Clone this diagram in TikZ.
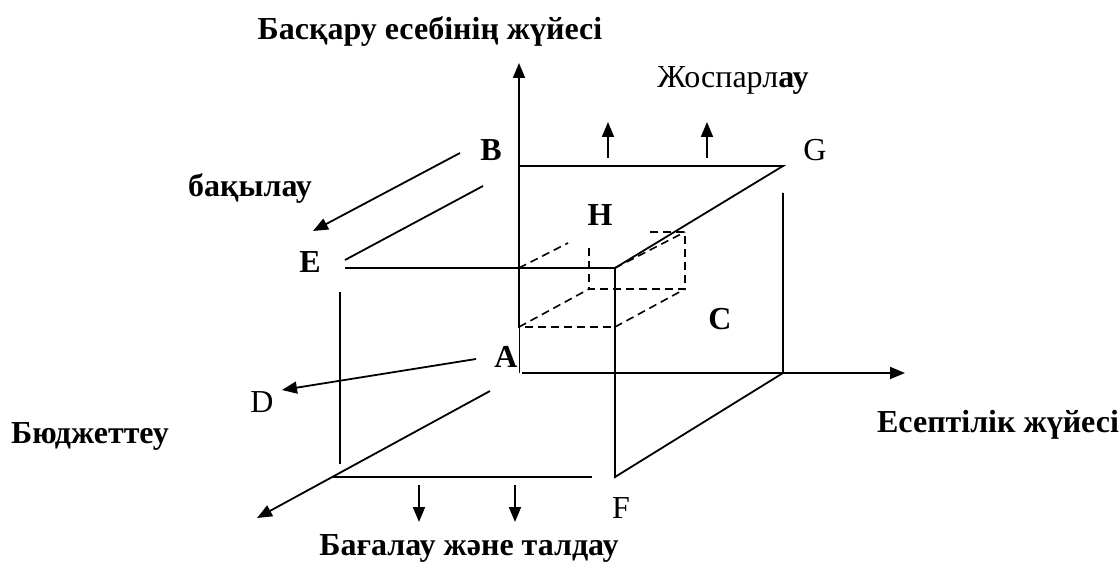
\documentclass[tikz,border=0pt]{standalone}
\usepackage{fontspec}
\setmainfont{Liberation Serif}
\usetikzlibrary{arrows.meta}

\begin{document}
\begin{tikzpicture}[x=0.5pt, y=-0.5pt, every node/.style={font=\fontsize{16}{19}\selectfont, inner sep=0pt, anchor=base}, >={Triangle[length=7.5pt,width=6pt]}, edge/.style={line width=0.9pt}, hidden/.style={line width=0.8pt, dash pattern=on 4pt off 2.5pt}, bf/.style={font=\fontsize{16}{19}\selectfont\bfseries}]
	\useasboundingbox (0,0) rectangle (1120,567);
	\coordinate (origin) at (519,373);
	\coordinate (ytip) at (519,63);
	\coordinate (xtip) at (905,373);
	\coordinate (backTL) at (519,166);
	\coordinate (backTR) at (783,166);
	\coordinate (backBR) at (783,373);
	\coordinate (frontTR) at (615,268);
	\coordinate (frontBR) at (615,477);
	\coordinate (frontTL) at (345,268);
	\draw[edge, ->] (519,327) -- (ytip);
	\draw[line width=0.4pt] (519,327) -- (origin);
	\draw[edge, ->] (522,373) -- (xtip);
	\draw[edge] (backTL) -- (backTR) -- (frontTR);
	\draw[edge] (783,193) -- (backBR) -- (frontBR) -- (frontTR) -- (frontTL);
	\draw[edge] (345,260) -- (483,186);
	\draw[edge] (340,292) -- (340,464);
	\draw[edge] (332,477) -- (592,477);
	\draw[hidden] (519,268) -- (519,327) -- (615,327) -- (frontTR);
	\draw[hidden] (589,248) -- (589,289) -- (685,289) -- (685,232) -- (647,232);
	\draw[hidden] (519,268) -- (568,243);
	\draw[hidden] (519,327) -- (589,289);
	\draw[hidden] (615,327) -- (685,289);
	\draw[hidden] (frontTR) -- (685,232);
	\draw[edge, ->] (460,153) -- (313,231);
	\draw[edge, ->] (476,359) -- (282,390);
	\draw[edge, ->] (490,391) -- (257,518);
	\draw[edge, ->] (419,485) -- (419,522);
	\draw[edge, ->] (515,485) -- (515,522);
	\draw[edge, ->] (608,158) -- (608,122);
	\draw[edge, ->] (707,158) -- (707,122);
	\node[bf] (mgmt) at (430,40) {Басқару есебінің жүйесі};
	\node (plan) at (733,88) {Жоспарл\textbf{ау}};
	\node[bf] (ctrl) at (250,197) {бақылау};
	\node[bf] (budget) at (90,443) {Бюджеттеу};
	\node[bf] (report) at (998,432) {Есептілік жүйесі};
	\node[bf] (eval) at (469,555) {Бағалау және талдау};
	\node[bf] (A) at (506,367) {A};
	\node[bf] (B) at (491,161) {B};
	\node[bf] (C) at (720,329) {C};
	\node (D) at (262,412) {D};
	\node[bf] (E) at (310,272) {E};
	\node (F) at (621,518) {F};
	\node (G) at (815,161) {G};
	\node[bf] (H) at (600,226) {H};
\end{tikzpicture}
\end{document}
